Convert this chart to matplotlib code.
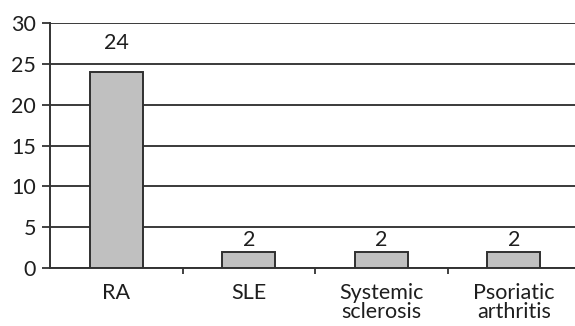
import matplotlib
matplotlib.use("Agg")
import matplotlib.pyplot as plt
from matplotlib.ticker import FixedLocator

categories = ["RA", "SLE", "Systemic\nsclerosis", "Psoriatic\narthritis"]
values = [24, 2, 2, 2]
y_ticks = [0, 5, 10, 15, 20, 25, 30]

plt.rcParams['font.family'] = ['Lato', 'DejaVu Sans']
TEXT = "#1e1e1e"
FS = 15.5

fig = plt.figure(figsize=(5.75, 3.26), dpi=100)
ax = fig.add_axes([50/575, 58/326, 530/575, 245/326])

x = list(range(len(categories)))
ax.bar(x, values, width=0.4, color="#c0c0c0", edgecolor="#303030",
       linewidth=1.4, zorder=3)
for xi, v in zip(x, values):
    # value labels sit just above each bar; the tall bar's label clears the 25 gridline
    offset = 14 if v > 20 else 1
    ax.annotate(str(v), (xi, v), xytext=(0, offset), textcoords="offset points",
                ha="center", va="bottom", fontsize=FS, color=TEXT)

ax.set_xlim(-0.5, len(categories) - 0.5)
ax.set_ylim(0, 30)
ax.set_yticks(y_ticks)
ax.yaxis.grid(True, color="#3a3a3a", linewidth=1.4, zorder=0)
ax.set_axisbelow(True)

ax.set_xticks(x)
ax.set_xticklabels(categories, fontsize=FS, color=TEXT, linespacing=0.92)
ax.tick_params(axis="x", length=0, pad=11)
ax.xaxis.set_minor_locator(FixedLocator([0.5, 1.5, 2.5]))
ax.tick_params(axis="x", which="minor", length=4, width=1.3, color="#333333",
               direction="out")
ax.tick_params(axis="y", length=6, width=1.3, color="#333333", direction="out",
               labelsize=FS, labelcolor=TEXT, pad=4)

for side in ("top", "right"):
    ax.spines[side].set_visible(False)
for side in ("left", "bottom"):
    ax.spines[side].set_color("#333333")
    ax.spines[side].set_linewidth(1.4)

fig.savefig("out.png", dpi=100)
